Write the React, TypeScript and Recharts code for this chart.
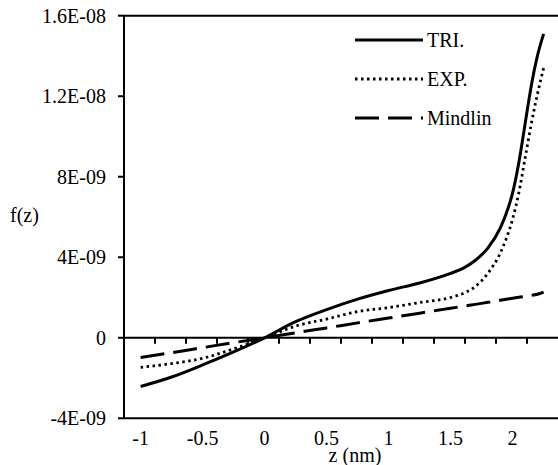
import React from "react";
import { LineChart, Line, XAxis, YAxis, ReferenceLine, Legend, Label } from "recharts";

// z in nm, f(z) values in units of 1E-09
const zValues = [-1, -0.75, -0.5, -0.25, 0, 0.25, 0.5, 0.75, 1, 1.25, 1.5, 1.6, 1.7, 1.8, 1.9, 1.95, 2, 2.05, 2.1, 2.15, 2.2, 2.25];
const triNano = [-2.42, -1.95, -1.35, -0.7, 0, 0.8, 1.4, 1.92, 2.35, 2.72, 3.2, 3.45, 3.85, 4.45, 5.45, 6.2, 7.2, 8.7, 10.6, 12.5, 14.0, 15.1];
const expNano = [-1.47, -1.28, -1.02, -0.55, 0, 0.58, 0.93, 1.3, 1.5, 1.75, 2.0, 2.2, 2.55, 3.2, 4.2, 4.95, 5.9, 7.2, 8.9, 10.6, 12.1, 13.4];
const mindlinNano = [-0.98, -0.74, -0.49, -0.24, 0, 0.25, 0.49, 0.74, 0.98, 1.22, 1.47, 1.56, 1.66, 1.76, 1.86, 1.91, 1.96, 2.01, 2.06, 2.11, 2.16, 2.27];

const xTicks = [-1, -0.5, 0, 0.5, 1, 1.5, 2];
// tick marks hanging under the f(z)=0 line
const zeroLineTicks = [-0.884, -0.634, -0.384, -0.134, 0.116, 0.366, 0.616, 0.866, 1.116, 1.366, 1.616, 1.866, 2.116];
const yTicks = [-4e-9, 0, 4e-9, 8e-9, 1.2e-8, 1.6e-8];
const yTickLabels = ["-4E-09", "0", "4E-09", "8E-09", "1.2E-08", "1.6E-08"];

const series = [
  { key: "tri", name: "TRI.", dash: undefined as string | undefined, width: 3 },
  { key: "exp", name: "EXP.", dash: "2.5 3.5", width: 2.8 },
  { key: "mindlin", name: "Mindlin", dash: "24 9", width: 3 },
];

const curveRows: any[] = zValues.map((z, i) => ({
  z,
  tri: triNano[i] * 1e-9,
  exp: expNano[i] * 1e-9,
  mindlin: mindlinNano[i] * 1e-9,
}));
const tickRows: any[] = zeroLineTicks.map((z) => ({ z, zeroMark: 0 }));
const data = [...curveRows, ...tickRows].sort((a, b) => a.z - b.z);

const FONT = '"Liberation Serif", Tinos, "Times New Roman", Times, "Nimbus Roman", FreeSerif, "DejaVu Serif", serif';
const tickStyle = { fill: "#000", fontSize: 20, fontFamily: FONT };

function LegendBox() {
  return (
    <div style={{ fontFamily: FONT, fontSize: 20, color: "#000" }}>
      {series.map((s) => (
        <div key={s.key} style={{ display: "flex", alignItems: "center", height: 39 }}>
          <svg width={68} height={6}>
            <line x1={0} y1={3} x2={68} y2={3} stroke="#000" strokeWidth={s.width} strokeDasharray={s.dash} />
          </svg>
          <span style={{ marginLeft: 4, lineHeight: "20px" }}>{s.name}</span>
        </div>
      ))}
    </div>
  );
}

// dot renderer that draws a short tick below the zero line
const ZeroTickDot = (p: any) => {
  if (!p.payload || p.payload.zeroMark !== 0 || p.cx == null || p.cy == null) return <g key={p.key} />;
  return <line key={p.key} x1={p.cx} y1={p.cy} x2={p.cx} y2={p.cy + 6} stroke="#000" strokeWidth={2} />;
};

export default function App() {
  return (
    <div style={{ position: "absolute", left: 0, top: 0, width: 558, height: 465, overflow: "hidden", background: "#fff", fontFamily: FONT }}>
      <LineChart width={558} height={465} data={data} margin={{ top: 15.7, right: 0, bottom: 0, left: 0 }}>
        <XAxis
          type="number"
          dataKey="z"
          domain={[-1.134, 2.366]}
          allowDataOverflow
          ticks={xTicks}
          tickLine={false}
          tickSize={0}
          tickMargin={12}
          height={46.7}
          axisLine={{ stroke: "#000", strokeWidth: 2 }}
          tick={tickStyle}
        >
          <Label value="z (nm)" position="insideBottom" offset={3} dx={14} style={{ fill: "#000", fontSize: 20, fontFamily: FONT }} />
        </XAxis>
        <YAxis
          type="number"
          domain={[-4e-9, 1.6e-8]}
          allowDataOverflow
          ticks={yTicks}
          width={124}
          tickSize={6}
          tickMargin={12}
          tickFormatter={(v: number) => yTickLabels[yTicks.findIndex((t) => Math.abs(t - v) < 1e-12)] ?? ""}
          axisLine={{ stroke: "#000", strokeWidth: 2 }}
          tickLine={{ stroke: "#000", strokeWidth: 2 }}
          tick={tickStyle}
        >
          <Label value="f(z)" position="insideLeft" offset={10} dy={-2} style={{ fill: "#000", fontSize: 20, fontFamily: FONT, textAnchor: "start" }} />
        </YAxis>
        <ReferenceLine y={1.6e-8} stroke="#000" strokeWidth={2} />
        <ReferenceLine y={0} stroke="#000" strokeWidth={2} />
        <Line
          dataKey="zeroMark"
          stroke="none"
          dot={ZeroTickDot}
          activeDot={false}
          legendType="none"
          isAnimationActive={false}
        />
        {series.map((s) => (
          <Line
            key={s.key}
            type="monotone"
            dataKey={s.key}
            name={s.name}
            stroke="#000"
            strokeWidth={s.width}
            strokeDasharray={s.dash}
            connectNulls
            dot={false}
            activeDot={false}
            isAnimationActive={false}
          />
        ))}
        <Legend
          layout="vertical"
          align="center"
          verticalAlign="middle"
          content={() => <LegendBox />}
          wrapperStyle={{ left: 355, top: 20.5, width: 200, height: 120 }}
        />
      </LineChart>
    </div>
  );
}
